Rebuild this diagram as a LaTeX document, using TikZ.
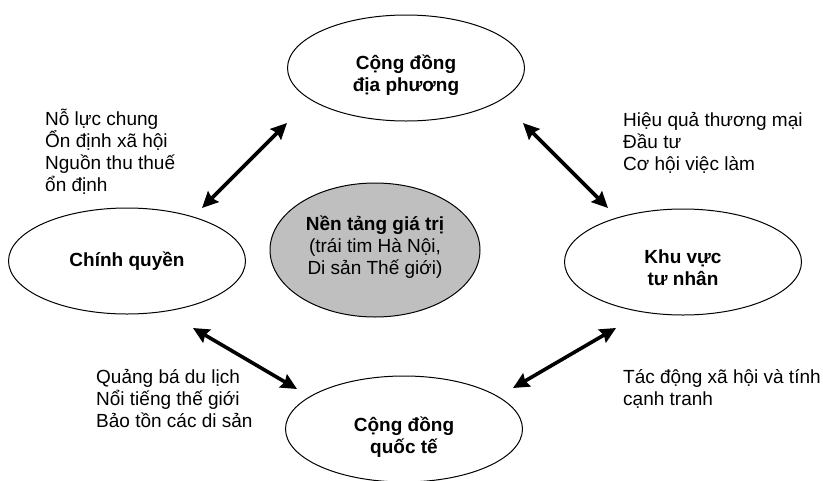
\documentclass[tikz,border=0pt]{standalone}
\usepackage{fontspec}
\setmainfont{Liberation Sans}
\usetikzlibrary{shapes.geometric,arrows.meta}
\begin{document}
\begin{tikzpicture}[x=1pt,y=-1pt,
  every node/.style={font=\fontsize{19}{21.7}\selectfont},
  bubble/.style={draw=black,line width=1pt,ellipse,inner sep=0pt,
     minimum width=237pt,minimum height=106pt},
  core/.style={bubble,fill=black!25,minimum width=210pt,minimum height=134pt},
  title/.style={align=center,inner sep=0pt,font=\fontsize{19}{21.7}\selectfont\bfseries},
  note/.style={anchor=base west,align=left,inner sep=0pt},
  link/.style={line width=3.6pt,{Stealth[length=16pt,width=15pt,inset=2pt]}-{Stealth[length=16pt,width=15pt,inset=2pt]}}]
\useasboundingbox (0,0) rectangle (823,480);
\node[bubble] (local) at (406,68) {};
\node[core] (core) at (375,250) {};
\node[bubble] (gov) at (127,261) {};
\node[bubble] (priv) at (683,262) {};
\node[bubble] (intl) at (404,429) {};

\node[title] (localtxt) at (406,75) {Cộng đồng\\địa phương};
\node[title] (coretxt) at (375,247) {Nền tảng giá trị\\\mdseries(trái tim Hà Nội,\\\mdseries Di sản Thế giới)};
\node[title] (govtxt) at (127,261) {Chính quyền};
\node[title] (privtxt) at (683,268) {Khu vực\\tư nhân};
\node[title] (intltxt) at (404,437) {Cộng đồng\\quốc tế};

\node[note] (n1) at (45,191) {Nỗ lực chung\\Ổn định xã hội\\Nguồn thu thuế\\ổn định};
\node[note] (n2) at (623,170) {Hiệu quả thương mại\\Đầu tư\\Cơ hội việc làm};
\node[note] (n3) at (96,427) {Quảng bá du lịch\\Nổi tiếng thế giới\\Bảo tồn các di sản};
\node[note] (n4) at (623,405) {Tác động xã hội và tính\\cạnh tranh};

\coordinate (a1) at (202,208); \coordinate (b1) at (287,123);
\coordinate (a2) at (523,123); \coordinate (b2) at (608,208);
\coordinate (a3) at (193,328); \coordinate (b3) at (297,389);
\coordinate (a4) at (616,328); \coordinate (b4) at (513,388);
\draw[link] (a1) -- (b1);
\draw[link] (a2) -- (b2);
\draw[link] (a3) -- (b3);
\draw[link] (a4) -- (b4);
\end{tikzpicture}
\end{document}
